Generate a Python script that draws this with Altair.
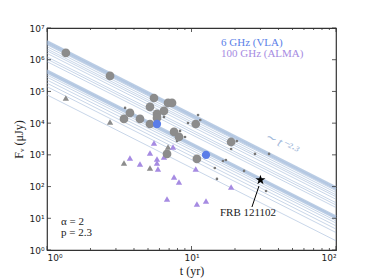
import altair as alt
import pandas as pd

# ---------------- data ----------------
# model lines F = A * t^-2.3 ; A = flux at t = 1 yr (log10 values)
line_logA = [6.58, 6.52, 6.47, 6.41, 6.34, 6.28, 6.20, 6.09, 6.02, 5.94,
             5.66, 5.60, 5.52, 5.45, 5.36, 5.26, 5.15, 4.89]
line_w = [2.2, 2.2, 0.8, 0.8, 0.8, 0.8, 0.8, 0.8, 0.8, 0.8,
          2.2, 2.2, 0.8, 0.8, 0.8, 0.8, 0.8, 0.8]
slope = -2.3

# gray circles
gc_t = [1.35, 2.73, 5.50, 5.16, 3.75, 3.41, 4.40, 5.77, 5.77, 6.88, 7.33,
        6.45, 5.16, 7.57, 8.19, 10.7, 18.8, 10.9, 6.77]
gc_f = [1.64e6, 3.08e5, 6.2e4, 3.24e4, 2.1e4, 1.36e4, 1.36e4, 1.95e4, 1.46e4,
        4.34e4, 4.34e4, 2.43e4, 9.4e3, 5.3e3, 3.67e3, 9.4e3, 2.55e3, 743, 1.07e3]
# blue circles (6 GHz VLA)
bc_t = [5.77, 12.6]
bc_f = [9.4e3, 993]
# gray triangles
gt_t = [1.35, 2.73, 3.41, 5.16, 6.88]
gt_f = [6.2e4, 1.09e4, 555, 386, 1.78e3]
# purple triangles (100 GHz ALMA)
pt_t = [3.75, 4.40, 5.50, 5.16, 5.77, 5.77, 5.86, 6.45, 7.45, 6.77, 7.57,
        8.19, 10.7, 18.8, 10.9, 12.6]
pt_f = [798, 516, 2.37e3, 1.15e3, 743, 555, 359, 859, 1.78e3, 40.6, 201,
        140, 359, 97, 28.3, 35.1]
# small gray dots
sd_t = [3.47, 6.45, 9.46, 11.1, 11.5, 8.33, 8.6, 9.02, 7.94, 20.6, 18.8,
        27.5, 34.4, 16.5, 17.3, 14.5, 23.1, 15.0, 32.8]
sd_f = [3.02e4, 1.57e4, 1.01e4, 1.81e4, 1.26e4, 5.68e3, 3.67e3, 3.67e3,
        2.74e3, 2.74e3, 1.53e3, 1.07e3, 1.07e3, 642, 690, 386, 311, 174, 72.6]
# FRB 121102
frb_t = [30.0]
frb_f = [162]
arrow_t = [26.2, 29.3]
arrow_f = [22.7, 104]

# ---------------- tables ----------------
rows = []
for i, (a, w) in enumerate(zip(line_logA, line_w)):
    for t in (1.0, 100.0):
        rows.append({"id": i, "t": t, "F": 10 ** a * t ** slope, "w": w})
lines_df = pd.DataFrame(rows)

xs = alt.Scale(type="log", domain=[1, 100], nice=False)
ys = alt.Scale(type="log", domain=[1, 1e7], nice=False)
sup = "['⁰','¹','²','³','⁴','⁵','⁶','⁷']"
xax = alt.Axis(values=[1, 10, 100], labelExpr="'10' + " + sup + "[round(log(datum.value)/LN10)]",
               ticks=False, domain=False, grid=False, title="t  (yr)",
               titleFont="Liberation Serif", titleFontSize=12, titleFontWeight="normal",
               labelFont="DejaVu Sans", labelFontSize=9, labelPadding=3, titlePadding=3,
               labelColor="#222", titleColor="#222")
yax = alt.Axis(values=[1, 10, 100, 1e3, 1e4, 1e5, 1e6, 1e7],
               labelExpr="'10' + " + sup + "[round(log(datum.value)/LN10)]",
               ticks=False, domain=False, grid=False, title="Fᵥ  (μJy)",
               titleFont="Liberation Serif", titleFontSize=12, titleFontWeight="normal",
               labelFont="DejaVu Sans", labelFontSize=9, labelPadding=3, titlePadding=3,
               labelColor="#222", titleColor="#222")

lines = alt.Chart(lines_df).mark_line(color="#9db6d8", opacity=0.7).encode(
    x=alt.X("t:Q", scale=xs, axis=xax),
    y=alt.Y("F:Q", scale=ys, axis=yax),
    detail="id:N",
    strokeWidth=alt.StrokeWidth("w:Q", scale=None),
)

def pts(t, f, shape, color, size, opacity=1.0):
    df = pd.DataFrame({"t": t, "F": f})
    return alt.Chart(df).mark_point(shape=shape, filled=True, color=color,
                                    size=size, opacity=opacity, strokeWidth=0).encode(
        x=alt.X("t:Q", scale=xs), y=alt.Y("F:Q", scale=ys))

gray = "#8c8c8c"
layers = [
    lines,
    pts(sd_t, sd_f, "circle", "#777777", 7),
    pts(gt_t, gt_f, "triangle-up", gray, 40),
    pts(pt_t, pt_f, "triangle-up", "#a68be2", 40),
    pts(gc_t, gc_f, "circle", gray, 76),
    pts(bc_t, bc_f, "circle", "#5a7de8", 68),
]

arrow = alt.Chart(pd.DataFrame({"t": arrow_t, "F": arrow_f})).mark_line(
    color="black", strokeWidth=1).encode(x=alt.X("t:Q", scale=xs), y=alt.Y("F:Q", scale=ys))
star = pts(frb_t, frb_f, "M0,-1L0.2245,-0.309L0.951,-0.309L0.3633,0.118L0.5878,0.809L0,0.382L-0.5878,0.809L-0.3633,0.118L-0.951,-0.309L-0.2245,-0.309Z",
           "black", 110)
layers += [arrow, star]

def txt(t, f, s, color="#222", size=11, align="left", angle=0, style="normal", font="Liberation Serif"):
    df = pd.DataFrame({"t": [t], "F": [f], "s": [s]})
    return alt.Chart(df).mark_text(align=align, baseline="middle", color=color, fontSize=size,
                                   angle=angle, fontStyle=style, font=font, fontWeight="normal").encode(
        x=alt.X("t:Q", scale=xs), y=alt.Y("F:Q", scale=ys), text="s:N")

layers += [
    txt(24.6, 14.7, "FRB 121102", align="center", size=11),
    txt(16.0, 3.4e6, "6 GHz  (VLA)", color="#5b7fe8", size=11),
    txt(16.0, 1.5e6, "100 GHz  (ALMA)", color="#a68be2", size=11),
    txt(1.25, 7.6, "α = 2", size=11),
    txt(1.25, 3.4, "p = 2.3", size=11),
    txt(42, 2.3e3, "∼ t⁻²·³", color="#9fb8da", size=13, align="center", angle=26, style="italic"),
]

# inward ticks
def ticks_x(vals, y0, y1):
    return alt.Chart(pd.DataFrame({"v": vals})).mark_rule(color="#333", strokeWidth=0.8).encode(
        x=alt.X("v:Q", scale=xs), y=alt.value(y0), y2=alt.value(y1))

def ticks_y(vals, x0, x1):
    return alt.Chart(pd.DataFrame({"v": vals})).mark_rule(color="#333", strokeWidth=0.8).encode(
        y=alt.Y("v:Q", scale=ys), x=alt.value(x0), x2=alt.value(x1))

W, H = 289, 222
xmaj = [1, 10, 100]
xmin = [2, 3, 4, 5, 6, 7, 8, 9, 20, 30, 40, 50, 60, 70, 80, 90]
ymaj = [1, 10, 100, 1e3, 1e4, 1e5, 1e6, 1e7]
layers += [
    ticks_x(xmaj, H, H - 4), ticks_x(xmaj, 0, 4),
    ticks_x(xmin, H, H - 2), ticks_x(xmin, 0, 2),
    ticks_y(ymaj, 0, 4), ticks_y(ymaj, W, W - 4),
]

chart = alt.layer(*layers).properties(
    width=W, height=H,
    autosize=alt.AutoSizeParams(type="none"),
    padding={"left": 39, "top": 20, "right": 30, "bottom": 35},
).configure_view(stroke="#333", strokeWidth=1.2)

chart.save("out.html", embed_options={"renderer": "svg", "actions": False})
